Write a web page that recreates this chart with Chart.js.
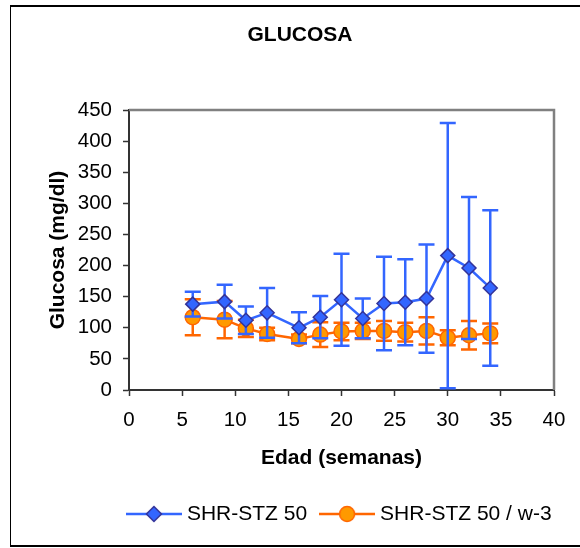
<!DOCTYPE html>
<html>
<head>
<meta charset="utf-8">
<script src="https://cdn.jsdelivr.net/npm/chart.js@4/dist/chart.umd.min.js"></script>
<style>
  body { margin: 0; background: #fff; }
  #wrap { width: 580px; height: 548px; }
</style>
</head>
<body>
<div id="wrap"><canvas id="glucosaChart" width="580" height="548"></canvas></div>
<script>
const semanas = [6, 9, 11, 13, 16, 18, 20, 22, 24, 26, 28, 30, 32, 34];
const shrStz = [138, 142, 112, 124, 100, 117, 145, 115, 139, 141, 147, 216, 196, 164];
const shrStzErr = [20, 27, 22, 40, 25, 34, 74, 32, 75, 69, 87, 213, 114, 125];
const shrStzW3 = [117, 113, 99, 90, 82, 89, 94, 95, 95, 93, 95, 84, 88, 91];
const shrStzW3Err = [29, 30, 14, 10, 7, 20, 14, 13, 16, 15, 22, 12, 23, 16];
const xTicks = [0, 5, 10, 15, 20, 25, 30, 35, 40];
const yTicks = [0, 50, 100, 150, 200, 250, 300, 350, 400, 450];

const FONT = 'Liberation Sans, Arial, sans-serif';

function toPoints(values) {
  return semanas.map((x, i) => ({ x, y: values[i] }));
}

// legend symbol: line with the marker in the middle
function legendSymbol(kind, lineColor, fill, border) {
  const c = document.createElement('canvas');
  c.width = 56;
  c.height = 22;
  const g = c.getContext('2d');
  g.strokeStyle = lineColor;
  g.lineWidth = 2.5;
  g.beginPath();
  g.moveTo(0, 11);
  g.lineTo(56, 11);
  g.stroke();
  g.fillStyle = fill;
  g.strokeStyle = border;
  g.lineWidth = 1.5;
  g.beginPath();
  if (kind === 'diamond') {
    g.moveTo(28, 3.5); g.lineTo(35.5, 11); g.lineTo(28, 18.5); g.lineTo(20.5, 11); g.closePath();
  } else {
    g.arc(28, 11, 7.5, 0, Math.PI * 2);
  }
  g.fill();
  g.stroke();
  return c;
}

const blueSymbol = legendSymbol('diamond', '#3366FF', '#3366FF', '#333399');
const orangeSymbol = legendSymbol('circle', '#FF6600', '#FF9900', '#FF6600');

const errorBars = {
  id: 'errorBars',
  beforeDatasetDraw(chart, args) {
    const ds = chart.data.datasets[args.index];
    if (!ds.errors) return;
    const ctx = chart.ctx;
    const y = chart.scales.y;
    ctx.save();
    ctx.strokeStyle = ds.borderColor;
    ctx.lineWidth = 2.5;
    args.meta.data.forEach((pt, i) => {
      const v = ds.data[i].y;
      const e = ds.errors[i];
      const top = y.getPixelForValue(v + e);
      const bot = y.getPixelForValue(Math.max(v - e, 0));
      ctx.beginPath();
      ctx.moveTo(pt.x, top); ctx.lineTo(pt.x, bot);
      ctx.moveTo(pt.x - 8, top); ctx.lineTo(pt.x + 8, top);
      ctx.moveTo(pt.x - 8, bot); ctx.lineTo(pt.x + 8, bot);
      ctx.stroke();
    });
    ctx.restore();
  }
};

const frame = {
  id: 'frame',
  afterLayout(chart) {
    // legend sits centred under the plot area, not under the title
    const shift = (chart.chartArea.left + chart.chartArea.right) / 2 - (chart.legend.left + chart.legend.right) / 2;
    chart.legend.left += shift;
    chart.legend.right += shift;
  },
  beforeDraw(chart) {
    const ctx = chart.ctx;
    ctx.save();
    ctx.strokeStyle = '#000';
    ctx.lineWidth = 1;
    ctx.beginPath();
    ctx.moveTo(10.5, 6); ctx.lineTo(10.5, 546);
    ctx.stroke();
    ctx.lineWidth = 2;
    ctx.beginPath();
    ctx.moveTo(10, 6); ctx.lineTo(580, 6);
    ctx.moveTo(10, 546); ctx.lineTo(580, 546);
    ctx.stroke();
    ctx.restore();
  },
  beforeDatasetsDraw(chart) {
    const { left, top, right, bottom } = chart.chartArea;
    const ctx = chart.ctx;
    ctx.save();
    ctx.strokeStyle = '#808080';
    ctx.lineWidth = 2.5;
    ctx.beginPath();
    ctx.moveTo(left, top);
    ctx.lineTo(right, top);
    ctx.lineTo(right, bottom);
    ctx.stroke();
    ctx.restore();
  }
};

new Chart(document.getElementById('glucosaChart'), {
  type: 'line',
  data: {
    datasets: [
      {
        label: 'SHR-STZ 50',
        data: toPoints(shrStz),
        errors: shrStzErr,
        borderColor: '#3366FF',
        borderWidth: 2.5,
        backgroundColor: '#3366FF',
        pointStyle: 'rectRot',
        pointRadius: 7,
        pointBorderColor: '#333399',
        pointBorderWidth: 1.5,
        pointBackgroundColor: '#3366FF',
        fill: false,
        tension: 0
      },
      {
        label: 'SHR-STZ 50 / w-3',
        data: toPoints(shrStzW3),
        errors: shrStzW3Err,
        borderColor: '#FF6600',
        borderWidth: 2.5,
        backgroundColor: '#FF9900',
        pointStyle: 'circle',
        pointRadius: 7.5,
        pointBorderColor: '#FF6600',
        pointBorderWidth: 1.5,
        pointBackgroundColor: '#FF9900',
        fill: false,
        tension: 0
      }
    ]
  },
  options: {
    responsive: false,
    animation: false,
    events: [],
    layout: { padding: { left: 46, right: 26, top: 0, bottom: 13.5 } },
    plugins: {
      tooltip: { enabled: false },
      title: {
        display: true,
        text: 'GLUCOSA',
        color: '#000',
        font: { family: FONT, size: 21, weight: 'bold' },
        padding: { top: 22.4, bottom: 62.4 }
      },
      legend: {
        position: 'bottom',
        labels: {
          usePointStyle: true,
          pointStyleWidth: 45,
          padding: 17.5,
          color: '#000',
          font: { family: FONT, size: 21 },
          generateLabels: () => [
            { text: 'SHR-STZ 50', pointStyle: blueSymbol, datasetIndex: 0, fontColor: '#000', lineWidth: 0 },
            { text: 'SHR-STZ 50 / w-3', pointStyle: orangeSymbol, datasetIndex: 1, fontColor: '#000', lineWidth: 0 }
          ]
        }
      }
    },
    scales: {
      x: {
        type: 'linear',
        min: 0,
        max: 40,
        afterBuildTicks: (s) => { s.ticks = xTicks.map(v => ({ value: v })); },
        afterFit: (s) => { s.height = 96; },
        ticks: { color: '#000', padding: 12, font: { family: FONT, size: 20.5 } },
        grid: { drawOnChartArea: false, tickLength: 6, tickColor: '#333', tickWidth: 1.5 },
        border: { color: '#333', width: 2 },
        title: {
          display: true,
          text: 'Edad (semanas)',
          color: '#000',
          font: { family: FONT, size: 21, weight: 'bold' },
          padding: { top: 0, bottom: 15.4 }
        }
      },
      y: {
        min: 0,
        max: 450,
        afterBuildTicks: (s) => { s.ticks = yTicks.map(v => ({ value: v })); },
        afterFit: (s) => { s.width = 83; },
        ticks: { color: '#000', padding: 11, font: { family: FONT, size: 20.5 } },
        grid: { drawOnChartArea: false, tickLength: 6, tickColor: '#333', tickWidth: 1.5 },
        border: { color: '#333', width: 2 },
        title: {
          display: true,
          text: 'Glucosa (mg/dl)',
          color: '#000',
          font: { family: FONT, size: 21, weight: 'bold' },
          padding: { top: 0, bottom: 0 }
        }
      }
    }
  },
  plugins: [errorBars, frame]
});
</script>
</body>
</html>
